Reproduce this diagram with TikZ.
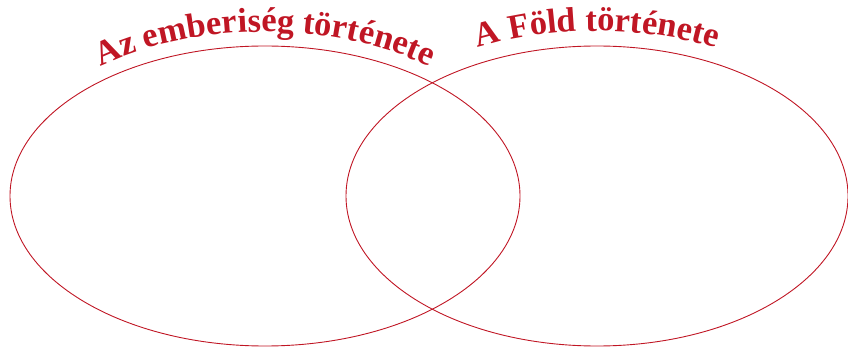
\documentclass[tikz,border=0pt]{standalone}
\usepackage{fontspec}
\setmainfont{Liberation Serif}
\usetikzlibrary{shapes.geometric,decorations.text}
\definecolor{vennred}{RGB}{192,22,36}
\begin{document}
\begin{tikzpicture}[x=1pt,y=1pt,
  venn/.style={ellipse, draw=vennred, line width=0.9pt, inner sep=0pt},
  arctitle/.style={decorate, decoration={text along path, text align=center,
     text={|\fontsize{34.5}{38}\selectfont\bfseries\color{vennred}|#1}}}]
\useasboundingbox (0,0) rectangle (848,348);
\node[venn, minimum width=510, minimum height=300] (human) at (265,152) {};
\node[venn, minimum width=502, minimum height=300] (earth) at (597,152) {};
\path[arctitle={Az emberiség története}]
  (human.center) ++(165:268 and 164) arc[start angle=165, end angle=15, x radius=268, y radius=164];
\path[arctitle={A Föld története}]
  (earth.center) ++(155:268 and 165) arc[start angle=155, end angle=25, x radius=268, y radius=165];
\end{tikzpicture}
\end{document}
